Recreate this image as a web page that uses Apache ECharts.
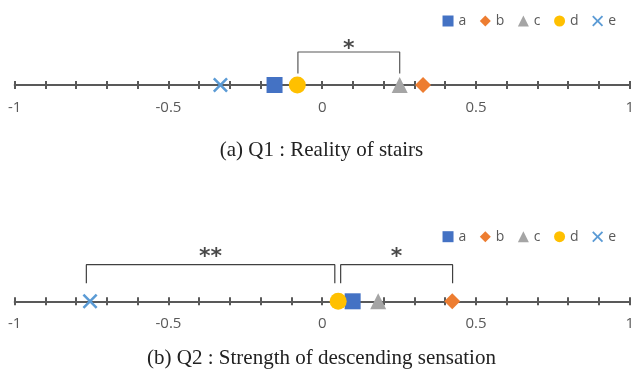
<!DOCTYPE html>
<html>
<head>
<meta charset="utf-8">
<script src="https://cdn.jsdelivr.net/npm/echarts@6/dist/echarts.min.js"></script>
<style>html,body{margin:0;padding:0;background:#fff}#c{width:637px;height:380px}</style>
</head>
<body>
<div id="c"></div>
<script>
// ---- data ----
const groups = ['a', 'b', 'c', 'd', 'e'];
const q1Values = [-0.155, 0.328, 0.252, -0.081, -0.331];
const q2Values = [0.099, 0.423, 0.182, 0.052, -0.755];
const tickLabels = ['-1', '-0.5', '0', '0.5', '1'];
// significance brackets: [from x, to x, mark]
const q1Brackets = [[-0.079, 0.252, '*']];
const q2Brackets = [[-0.767, 0.041, '**'], [0.060, 0.424, '*']];
const captions = ['(a) Q1 : Reality of stairs', '(b) Q2 : Strength of descending sensation'];

// ---- styles ----
const colors = ['#4472C4', '#ED7D31', '#A5A5A5', '#FFC000', '#5B9BD5'];
const xPath = 'path://M0,1.2L1.2,0L5,3.8L8.8,0L10,1.2L6.2,5L10,8.8L8.8,10L5,6.2L1.2,10L0,8.8L3.8,5Z';
const symbols = ['rect', 'diamond', 'triangle', 'circle', xPath];
const sizes = [16, 16, 16, 17, 15];
const axisColor = '#595959';

const axisLineY = [85, 301.3];
const bracketLayout = [
  { top: 0.55, leg: 0.19, star: 0.60 },
  { top: 0.61, leg: 0.30, star: 0.74 }
];

function tickFormatter(v) {
  const k = Math.round(v * 10);
  if (k % 5 !== 0) return '';
  return tickLabels[(k + 10) / 5];
}

const grids = [], xAxes = [], yAxes = [], series = [], legends = [], titles = [];
[q1Values, q2Values].forEach((vals, gi) => {
  grids.push({ left: 14.7, right: 4.3, top: axisLineY[gi] - 60, height: 60 });
  yAxes.push({ type: 'value', gridIndex: gi, min: 0, max: 1, show: false });
  // main axis: line, outward ticks, labels
  xAxes.push({
    type: 'value', gridIndex: gi, min: -1, max: 1, interval: 0.1, position: 'bottom',
    axisLine: { onZero: false, lineStyle: { color: axisColor, width: 2 } },
    axisTick: { show: true, length: 4, lineStyle: { color: axisColor, width: 2 } },
    axisLabel: { formatter: tickFormatter, color: '#595959', fontSize: 15, fontFamily: 'Open Sans', margin: 15, showMinLabel: true, showMaxLabel: true },
    splitLine: { show: false }
  });
  // second axis: inward ticks so ticks cross the line
  xAxes.push({
    type: 'value', gridIndex: gi, min: -1, max: 1, interval: 0.1, position: 'bottom',
    axisLine: { show: false, onZero: false },
    axisTick: { show: true, inside: true, length: 4, lineStyle: { color: axisColor, width: 2 } },
    axisLabel: { show: false },
    splitLine: { show: false }
  });
  const xi = gi * 2;
  groups.forEach((g, i) => {
    series.push({
      type: 'scatter', name: g, xAxisIndex: xi, yAxisIndex: gi,
      symbol: symbols[i], symbolSize: sizes[i],
      itemStyle: { color: colors[i], opacity: 1 },
      data: [[vals[i], 0]], z: 5, clip: false
    });
  });
  const brs = gi === 0 ? q1Brackets : q2Brackets;
  const L = bracketLayout[gi];
  brs.forEach(b => {
    series.push({
      type: 'line', xAxisIndex: xi, yAxisIndex: gi, symbol: 'none', silent: true,
      lineStyle: { color: gi === 0 ? '#595959' : '#404040', width: 1.2 }, clip: false, z: 3,
      data: [[b[0], L.leg], [b[0], L.top], [b[1], L.top], [b[1], L.leg]]
    });
    series.push({
      type: 'scatter', xAxisIndex: xi, yAxisIndex: gi, symbolSize: 1, silent: true, clip: false,
      itemStyle: { color: 'transparent' },
      label: { show: true, position: 'inside', formatter: b[2], color: '#1a1a1a', fontSize: 22, fontFamily: 'DejaVu Sans', fontWeight: 'bold' },
      data: [[(b[0] + b[1]) / 2, L.star]]
    });
  });
  legends.push({
    data: groups, right: 21, top: gi === 0 ? 14 : 229.7, itemWidth: 11, itemHeight: 11, itemGap: 13.5,
    textStyle: { color: '#595959', fontSize: 14, fontFamily: 'Open Sans' }, padding: 0, selectedMode: false
  });
  titles.push({
    text: captions[gi], left: 316.5, textAlign: 'center', top: gi === 0 ? 134.8 : 342.8,
    textStyle: { fontFamily: 'Liberation Serif', fontSize: 21, fontWeight: 'normal', color: '#222' }
  });
});

const chart = echarts.init(document.getElementById('c'));
chart.setOption({
  animation: false,
  title: titles,
  legend: legends,
  grid: grids,
  xAxis: xAxes,
  yAxis: yAxes,
  series: series
});
</script>
</body>
</html>
